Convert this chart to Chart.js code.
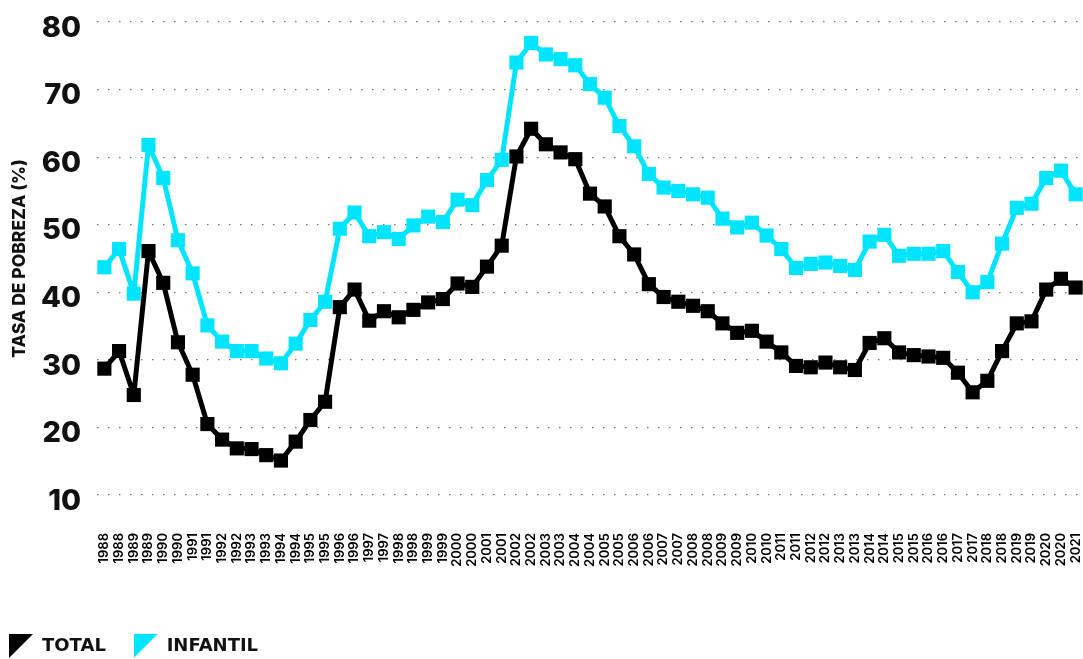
<!DOCTYPE html>
<html>
<head>
<meta charset="utf-8">
<script src="https://cdn.jsdelivr.net/npm/chart.js@4"></script>
<style>
html,body{margin:0;padding:0;background:#fff;}
#wrap{width:1083px;height:659px;position:relative;}
</style>
</head>
<body>
<div id="wrap"><canvas id="c" width="1083" height="659"></canvas></div>
<script>
const years = [];
for (let y = 1988; y <= 2020; y++) { years.push(String(y), String(y)); }
years.push('2021');
const labels = years;

const totalValues = [
  28.7, 31.3, 24.8, 46.1, 41.4, 32.6, 27.8, 20.5, 18.2, 16.9,
  16.8, 15.9, 15.1, 17.9, 21.1, 23.8, 37.8, 40.4, 35.8, 37.2,
  36.3, 37.4, 38.5, 39.0, 41.3, 40.8, 43.8, 46.9, 60.1, 64.2,
  61.9, 60.7, 59.7, 54.6, 52.7, 48.3, 45.6, 41.2, 39.3, 38.6,
  38.0, 37.2, 35.4, 34.0, 34.3, 32.7, 31.1, 29.1, 28.9, 29.6,
  28.9, 28.5, 32.5, 33.2, 31.1, 30.7, 30.5, 30.3, 28.1, 25.2,
  26.9, 31.3, 35.4, 35.7, 40.4, 42.0, 40.7
];
const infantilValues = [
  43.7, 46.4, 39.8, 61.8, 56.9, 47.7, 42.8, 35.1, 32.7, 31.3,
  31.3, 30.2, 29.5, 32.4, 35.9, 38.6, 49.4, 51.8, 48.3, 48.9,
  47.9, 49.9, 51.2, 50.4, 53.7, 52.9, 56.6, 59.6, 74.0, 76.9,
  75.2, 74.5, 73.6, 70.8, 68.8, 64.6, 61.6, 57.5, 55.5, 55.0,
  54.5, 54.0, 50.9, 49.6, 50.3, 48.4, 46.4, 43.6, 44.2, 44.4,
  43.9, 43.3, 47.5, 48.5, 45.4, 45.7, 45.7, 46.1, 43.0, 40.0,
  41.5, 47.2, 52.5, 53.1, 56.9, 58.0, 54.5
];
const yTicks = [10, 20, 30, 40, 50, 60, 70, 80];
const seriesNames = ['TOTAL', 'INFANTIL'];
const seriesColors = ['#000000', '#00e5ff'];

const FONT = 'Inter, "Open Sans", sans-serif';
const LEGEND_FONT = '"DejaVu Sans", Inter, sans-serif';

function triIcon(color) {
  const cv = document.createElement('canvas');
  cv.width = 24; cv.height = 24;
  const ctx = cv.getContext('2d');
  ctx.fillStyle = color;
  ctx.beginPath();
  ctx.moveTo(0, 0); ctx.lineTo(24, 0); ctx.lineTo(0, 24); ctx.closePath();
  ctx.fill();
  return cv;
}
const icons = seriesColors.map(triIcon);

const ds = [totalValues, infantilValues].map((vals, i) => ({
  label: seriesNames[i],
  data: vals,
  borderColor: seriesColors[i],
  backgroundColor: seriesColors[i],
  borderWidth: 5,
  borderJoinStyle: 'round',
  pointStyle: 'rect',
  pointRadius: 10,
  pointHoverRadius: 10,
  pointBorderWidth: 0,
  tension: 0,
  fill: false,
  clip: false
}));

new Chart(document.getElementById('c'), {
  type: 'line',
  data: { labels: labels, datasets: ds.slice().reverse() },
  options: {
    responsive: false,
    animation: false,
    layout: { autoPadding: false, padding: { top: 22, right: 0, left: 0, bottom: -6 } },
    plugins: {
      tooltip: { enabled: false },
      legend: {
        position: 'bottom',
        align: 'start',
        labels: {
          usePointStyle: true,
          pointStyleWidth: 24,
          padding: 9,
          color: '#111',
          font: { family: LEGEND_FONT, size: 18, weight: 'bold' },
          generateLabels: (chart) => seriesNames.map((n, i) => ({
            text: i === 0 ? n + '   ' : n,
            pointStyle: icons[i],
            fillStyle: seriesColors[i],
            strokeStyle: seriesColors[i],
            lineWidth: 0,
            hidden: false,
            datasetIndex: 1 - i,
            fontColor: '#111'
          }))
        }
      }
    },
    scales: {
      x: {
        offset: true,
        grid: { display: false },
        border: { display: false },
        afterFit: (s) => { s.height = 133; s.paddingLeft = 0; s.paddingRight = 0; },
        ticks: {
          autoSkip: false,
          maxRotation: 90,
          minRotation: 90,
          padding: 30,
          color: '#000',
          font: { family: FONT, size: 13, weight: '600' }
        }
      },
      y: {
        min: 10,
        max: 80,
        afterFit: (s) => { s.width = 97; s.paddingTop = 0; s.paddingBottom = 0; },
        afterBuildTicks: (s) => { s.ticks = yTicks.map(v => ({ value: v })); },
        grid: { color: '#777', lineWidth: 1.2, drawTicks: false },
        border: { display: false, dash: [1.5, 9.5] },
        title: {
          display: true,
          text: 'TASA DE POBREZA (%)',
          color: '#111',
          padding: { top: 9, bottom: 0 },
          font: { family: FONT, size: 17.5, weight: '800' }
        },
        ticks: {
          padding: 16,
          labelOffset: 6,
          color: '#111',
          font: { family: FONT, size: 29, weight: '800' }
        }
      }
    }
  }
});
</script>
</body>
</html>
